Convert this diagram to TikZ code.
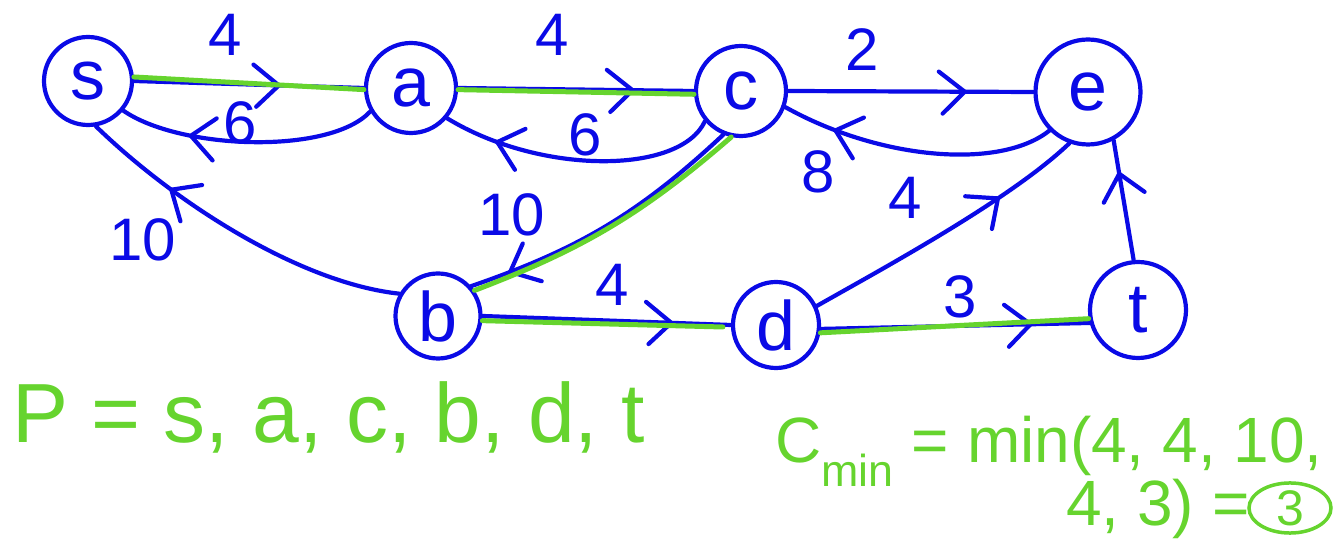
\documentclass[tikz,border=0pt]{standalone}
\usepackage{fontspec}
\setmainfont{Liberation Sans}
\usetikzlibrary{decorations.markings,shapes.geometric}
\definecolor{inkblue}{RGB}{10,10,230}
\definecolor{inkgreen}{RGB}{102,212,46}
\begin{document}
\begin{tikzpicture}[x=1pt,y=1pt,
  vtx/.style={circle,draw=inkblue,line width=4.2pt,inner sep=0pt,text=inkblue,font=\fontsize{70}{70}\selectfont},
  edge/.style={draw=inkblue,line width=4.2pt,line cap=round},
  wlabel/.style={text=inkblue,font=\fontsize{60}{60}\selectfont,inner sep=0pt},
  arrowat/.style={postaction={decorate},decoration={markings,mark=at position #1 with {\draw[inkblue,line width=4.2pt,line cap=round,line join=round] (-26pt,20pt) -- (0pt,0pt) -- (-22pt,-22pt);}}},
  hl/.style={draw=inkgreen,line width=5pt,line cap=round},
  gtext/.style={text=inkgreen,inner sep=0pt}
]
\useasboundingbox (0,0) rectangle (1339,540);

% vertices
\node[vtx,minimum size=88pt] (s) at (88,459) {s};
\node[vtx,minimum size=90pt] (a) at (411,452) {a};
\node[vtx,minimum size=90pt] (c) at (741,449) {c};
\node[vtx,minimum size=105pt] (e) at (1088,448) {e};
\node[vtx,minimum size=85pt] (b) at (438,224) {b};
\node[vtx,minimum size=86pt] (d) at (776,215) {d};
\node[vtx,minimum size=96pt] (t) at (1138,230) {t};

% edges
\draw[edge,arrowat=0.63] (s.east) -- (a.west);
\draw[edge,arrowat=0.72] (a.-150) .. controls (330,385) and (180,390) .. (s.-40);
\draw[edge,arrowat=0.72] (b.150) .. controls (300,257) and (175,337) .. (s.-80);
\draw[edge,arrowat=0.74] (a.east) -- (c.west);
\draw[edge,arrowat=0.80] (c.-140) .. controls (680,365) and (540,365) .. (a.-40);
\draw[edge,arrowat=0.86] (c.-112) to[bend left=12] (b.42);
\draw[edge,arrowat=0.76] (b.east) -- (d.west);
\draw[edge,arrowat=0.72] (c.east) -- (e.west);
\draw[edge,arrowat=0.80] (e.-135) .. controls (1000,370) and (880,380) .. (c.-20);
\draw[edge,arrowat=0.70] (d.25) .. controls (880,270) and (1010,340) .. (e.-110);
\draw[edge,arrowat=0.78] (d.-5) -- (t.-165);
\draw[edge,arrowat=0.72] (t.95) -- (e.-62);

% highlighted path
\draw[hl] (s.5) -- (a.182);
\draw[hl] (a.-2) -- (c.184);
\draw[hl] (c.-102) to[bend left=10] (b.35);
\draw[hl] (b.-6) -- ([xshift=-8pt,yshift=-2pt]d.west);
\draw[hl] (d.-10) -- (t.-170);

% weights
\node[wlabel] (w1) at (225,505) {4};
\node[wlabel] (w2) at (240,417) {6};
\node[wlabel] (w3) at (143,300) {10};
\node[wlabel] (w4) at (552,505) {4};
\node[wlabel] (w5) at (585,405) {6};
\node[wlabel] (w6) at (512,325) {10};
\node[wlabel] (w7) at (612,255) {4};
\node[wlabel] (w8) at (862,490) {2};
\node[wlabel] (w9) at (818,368) {8};
\node[wlabel] (w10) at (905,342) {4};
\node[wlabel] (w11) at (960,243) {3};

% green notes
\node[gtext,anchor=base west,font=\fontsize{84}{84}\selectfont] (pth) at (12,97) {P = s, a, c, b, d, t};
\node[gtext,anchor=base west,font=\fontsize{64}{64}\selectfont] (cmin) at (775,77) {C\textsubscript{min} = min(4, 4, 10,};
\node[gtext,anchor=base west,font=\fontsize{64}{64}\selectfont] (cmintwo) at (1066,14) {4, 3) =};
\node[gtext,ellipse,draw=inkgreen,line width=3.5pt,minimum width=82pt,minimum height=50pt,font=\fontsize{50}{50}\selectfont] (res) at (1290,32) {3};
\end{tikzpicture}
\end{document}
